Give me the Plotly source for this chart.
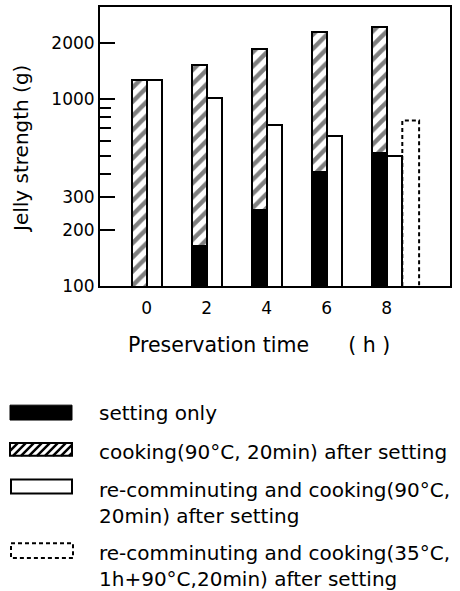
import plotly.graph_objects as go

# ---- data ----
hours = [0, 2, 4, 6, 8]
hour_labels = ["0", "2", "4", "6", "8"]
setting_only = [None, 163, 254, 410, 518]
cooking_after_setting = [1270, 1530, 1870, 2300, 2450]
recomminuting_90 = [1270, 1015, 733, 633, 497]
recomminuting_35_hours = [8]
recomminuting_35 = [770]

y_major = [100, 200, 300, 1000, 2000]
y_major_labels = ["100", "200", "300", "1000", "2000"]
y_minor = [400, 500, 600, 700, 800, 900]

legend_labels = [
    "setting only",
    "cooking(90\u00b0C, 20min) after setting",
    "re-comminuting and cooking(90\u00b0C,<br>20min) after setting",
    "re-comminuting and cooking(35\u00b0C,<br>1h+90\u00b0C,20min) after setting",
]

# ---- geometry (pixels) ----
W, H = 460, 591
L, R, T, B = 100, 450, 5, 286
FONT = "DejaVu Sans"
TXT = 20


def px(x):
    return (x - L) / (R - L)


def py(y):
    return (B - y) / (B - T)


BW = 0.5  # bar width in hours

fig = go.Figure()

fig.add_trace(go.Bar(
    x=hours, y=cooking_after_setting, offset=-BW, width=BW,
    marker=dict(color="white", line=dict(color="black", width=2),
                pattern=dict(shape="/", fgcolor="black", bgcolor="white",
                             size=10, solidity=0.45)),
    showlegend=False))

fig.add_trace(go.Bar(
    x=hours, y=setting_only, offset=-BW, width=BW,
    marker=dict(color="black", line=dict(color="black", width=2)),
    showlegend=False))

fig.add_trace(go.Bar(
    x=hours, y=recomminuting_90, offset=0, width=BW,
    marker=dict(color="white", line=dict(color="black", width=2)),
    showlegend=False))

# dashed-outline bar
for hx, v in zip(recomminuting_35_hours, recomminuting_35):
    x0, x1 = hx + 0.52, hx + 1.08
    fig.add_trace(go.Scatter(
        x=[x0, x0, x1, x1], y=[100, v, v, 100], mode="lines",
        line=dict(color="black", width=2, dash="4px,3px"),
        showlegend=False, hoverinfo="skip"))

fig.update_layout(
    width=W, height=H,
    margin=dict(l=L, r=W - R, t=T, b=H - B),
    paper_bgcolor="white", plot_bgcolor="white",
    barmode="overlay", bargap=0,
    font=dict(family=FONT, color="black", size=TXT),
    showlegend=False,
)

fig.update_xaxes(
    range=[-1.556, 10.11], showline=True, mirror=True, linewidth=2,
    linecolor="black", ticks="", tickvals=hours, ticktext=hour_labels,
    showgrid=False, zeroline=False, tickfont=dict(size=17, family=FONT),
    ticklabelstandoff=6,
)
fig.update_yaxes(
    type="log", range=[2, 3.495], showline=True, mirror=True, linewidth=2,
    linecolor="black", tickvals=y_major, ticktext=y_major_labels,
    ticks="inside", ticklen=15, tickwidth=2, tickcolor="black",
    minor=dict(tickvals=y_minor, ticks="inside", ticklen=11, tickwidth=2,
               tickcolor="black", showgrid=False),
    showgrid=False, zeroline=False, tickfont=dict(size=17, family=FONT),
)

annotations = [
    dict(text="Jelly strength (g)", x=px(21), y=py(148), xref="paper",
         yref="paper", textangle=-90, showarrow=False,
         font=dict(size=TXT, family=FONT), xanchor="center", yanchor="middle"),
    dict(text="Preservation time\u00a0\u00a0\u00a0\u00a0\u00a0\u00a0( h )",
         x=px(259), y=py(345), xref="paper", yref="paper", showarrow=False,
         font=dict(size=20.5, family=FONT), xanchor="center", yanchor="middle"),
]

legend_centers = [414, 453, 505, 568]
for lab, yc in zip(legend_labels, legend_centers):
    annotations.append(dict(
        text=lab, x=px(97), y=py(yc), xref="paper", yref="paper",
        showarrow=False, align="left", xanchor="left", yanchor="middle",
        font=dict(size=TXT, family=FONT)))
fig.update_layout(annotations=annotations)

shapes = []
# black box
shapes.append(dict(type="rect", xref="paper", yref="paper",
                   x0=px(10), x1=px(72), y0=py(406), y1=py(421),
                   fillcolor="black", line=dict(color="black", width=1)))
# hatched box
hx0, hx1, hy0, hy1 = 10, 72, 444, 457
segs = []
step = 8
s = hx0 - (hy1 - hy0)
while s < hx1:
    xa, ya = s, hy1
    xb, yb = s + (hy1 - hy0), hy0
    if xa < hx0:
        ya = hy1 - (hx0 - xa)
        xa = hx0
    if xb > hx1:
        yb = hy0 + (xb - hx1)
        xb = hx1
    if xb > xa:
        segs.append(f"M{px(xa)},{py(ya)} L{px(xb)},{py(yb)}")
    s += step
shapes.append(dict(type="path", xref="paper", yref="paper",
                   path=" ".join(segs), line=dict(color="black", width=2.5)))
shapes.append(dict(type="rect", xref="paper", yref="paper",
                   x0=px(hx0), x1=px(hx1), y0=py(hy0), y1=py(hy1),
                   line=dict(color="black", width=2)))
# white box
shapes.append(dict(type="rect", xref="paper", yref="paper",
                   x0=px(11), x1=px(72), y0=py(481), y1=py(495),
                   fillcolor="white", line=dict(color="black", width=2)))
# dashed box
shapes.append(dict(type="rect", xref="paper", yref="paper",
                   x0=px(11), x1=px(73), y0=py(545), y1=py(560),
                   line=dict(color="black", width=2, dash="4px,3px")))
fig.update_layout(shapes=shapes)

fig.write_html(
    "out.html",
    config={"displayModeBar": False},
    post_script="document.body.style.margin='0';document.body.style.padding='0';",
)
